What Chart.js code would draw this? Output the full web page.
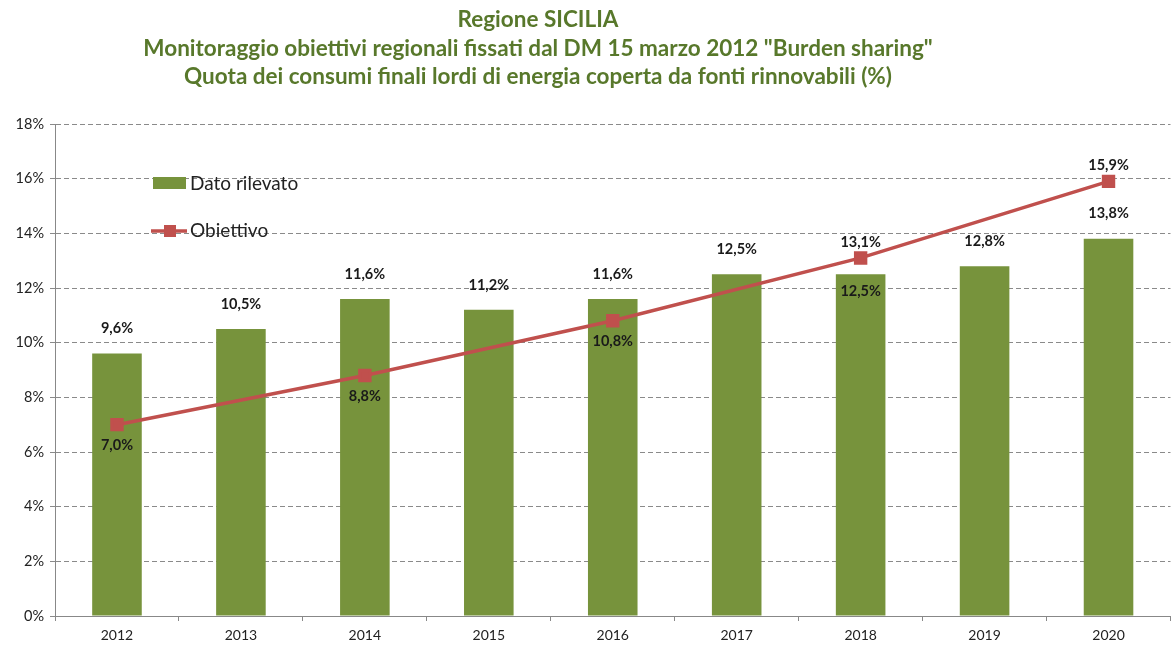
<!DOCTYPE html>
<html>
<head>
<meta charset="utf-8">
<script src="https://cdn.jsdelivr.net/npm/chart.js@4/dist/chart.umd.min.js"></script>
<style>
  html, body { margin: 0; padding: 0; background: #fff; overflow: hidden; }
  #wrap { width: 1181px; height: 648px; }
</style>
</head>
<body>
<div id="wrap"><canvas id="chart"></canvas></div>
<script>
const years = ['2012', '2013', '2014', '2015', '2016', '2017', '2018', '2019', '2020'];
const datoRilevato = [9.6, 10.5, 11.6, 11.2, 11.6, 12.5, 12.5, 12.8, 13.8];
const obiettivo = [7.0, null, 8.8, null, 10.8, null, 13.1, null, 15.9];
const titleLines = [
    'Regione SICILIA',
    'Monitoraggio obiettivi regionali fissati dal DM 15 marzo 2012 "Burden sharing"',
    'Quota dei consumi finali lordi di energia coperta da fonti rinnovabili (%)'
];

const FONT = 'Lato, "Open Sans", sans-serif';
const fmt = v => v.toFixed(1).replace('.', ',') + '%';

// title, legend and value labels drawn by hand
const decorations = {
    id: 'decorations',
    afterDatasetsDraw(chart) {
        const ctx = chart.ctx;
        ctx.save();

        // title
        ctx.fillStyle = '#58782B';
        ctx.font = 'bold 22.5px ' + FONT;
        ctx.textAlign = 'center';
        ctx.textBaseline = 'middle';
        titleLines.forEach((t, i) => ctx.fillText(t, 538, 20 + i * 28.5));

        // bar labels
        ctx.fillStyle = '#1a1a1a';
        ctx.font = 'bold 14.5px ' + FONT;
        chart.getDatasetMeta(0).data.forEach((bar, i) => {
            const y = i === 6 ? bar.y + 17 : bar.y - 25;
            ctx.fillText(fmt(datoRilevato[i]), bar.x, y);
        });

        // line labels
        chart.getDatasetMeta(1).data.forEach((pt, i) => {
            if (obiettivo[i] === null) return;
            const y = i >= 6 ? pt.y - 16 : pt.y + 21;
            ctx.fillText(fmt(obiettivo[i]), pt.x, y);
        });

        // legend
        ctx.textAlign = 'left';
        ctx.font = '19px ' + FONT;
        ctx.fillStyle = '#77933C';
        ctx.fillRect(153, 177, 33, 12);
        ctx.fillStyle = '#222';
        ctx.fillText('Dato rilevato', 190, 184);

        ctx.strokeStyle = '#C0504D';
        ctx.lineWidth = 3.5;
        ctx.beginPath();
        ctx.moveTo(151, 231);
        ctx.lineTo(187, 231);
        ctx.stroke();
        ctx.fillStyle = '#C0504D';
        ctx.fillRect(164, 225, 12, 12);
        ctx.fillStyle = '#222';
        ctx.fillText('Obiettivo', 190, 231);

        ctx.restore();
    }
};

new Chart(document.getElementById('chart'), {
    data: {
        labels: years,
        datasets: [
            {
                type: 'bar',
                label: 'Dato rilevato',
                data: datoRilevato,
                backgroundColor: '#77933C',
                barPercentage: 0.4,
                categoryPercentage: 1.0,
                order: 2
            },
            {
                type: 'line',
                label: 'Obiettivo',
                data: obiettivo,
                borderColor: '#C0504D',
                backgroundColor: '#C0504D',
                borderWidth: 3.5,
                pointStyle: 'rect',
                pointRadius: 7,
                spanGaps: true,
                order: 1
            }
        ]
    },
    options: {
        responsive: true,
        maintainAspectRatio: false,
        animation: false,
        layout: { padding: { top: 124, right: 1, left: 0, bottom: 0 } },
        plugins: {
            legend: { display: false },
            title: { display: false },
            tooltip: { enabled: false }
        },
        scales: {
            x: {
                grid: {
                    offset: true,
                    drawOnChartArea: false,
                    drawTicks: true,
                    tickLength: 5,
                    color: '#888'
                },
                border: { color: '#888', width: 1 },
                ticks: { color: '#222', font: { family: FONT, size: 14 }, padding: 6 },
                afterFit(scale) { scale.height = 32; }
            },
            y: {
                min: 0,
                max: 18,
                ticks: {
                    stepSize: 2,
                    color: '#222',
                    font: { family: FONT, size: 14.5 },
                    padding: 6,
                    callback: v => v + '%'
                },
                grid: { color: '#8a8a8a', tickLength: 5, tickBorderDash: [5, 3] },
                border: { color: '#888', dash: [5, 3], display: true },
                afterFit(scale) { scale.width = 55; }
            }
        }
    },
    plugins: [decorations]
});
</script>
</body>
</html>
